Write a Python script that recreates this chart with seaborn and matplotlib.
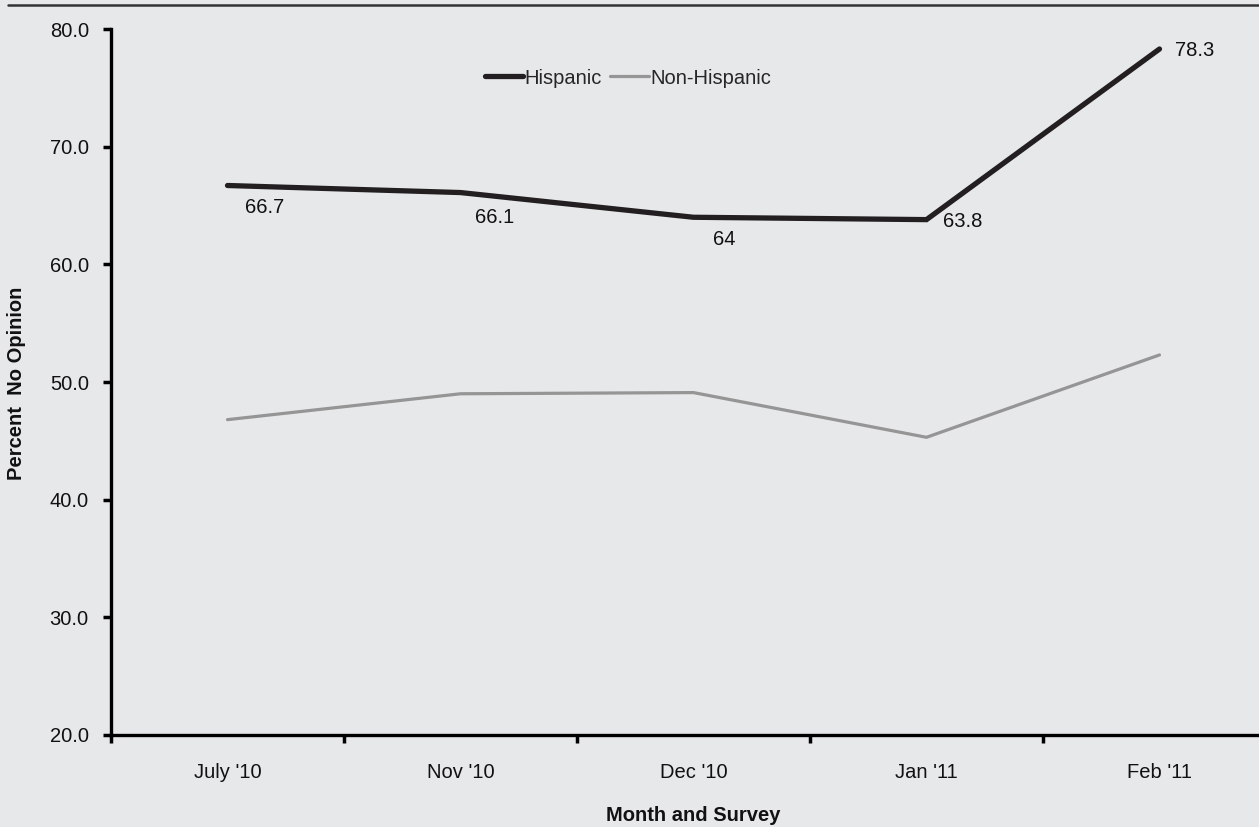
import matplotlib
matplotlib.use("Agg")
import matplotlib.pyplot as plt
import seaborn as sns
import pandas as pd
from matplotlib.lines import Line2D

# ---- data ----
months = ["July '10", "Nov '10", "Dec '10", "Jan '11", "Feb '11"]
hispanic = [66.7, 66.1, 64.0, 63.8, 78.3]
non_hispanic = [46.8, 49.0, 49.1, 45.3, 52.3]
hispanic_labels = ["66.7", "66.1", "64", "63.8", "78.3"]
series_names = ["Hispanic", "Non-Hispanic"]
y_ticks = [20, 30, 40, 50, 60, 70, 80]

# ---- style ----
bg = "#e7e8ea"
colors = {"Hispanic": "#231f20", "Non-Hispanic": "#959595"}
widths = {"Hispanic": 3.8, "Non-Hispanic": 2.3}
label_offsets_px = [(17, -22), (15, -25), (19, -22), (16, -2), (16, -1)]

sns.set_theme(style="white")
plt.rcParams["font.family"] = ["Liberation Sans", "DejaVu Sans"]

df = pd.DataFrame({
    "Month": months * 2,
    "x": list(range(len(months))) * 2,
    "Value": hispanic + non_hispanic,
    "Series": [series_names[0]] * len(months) + [series_names[1]] * len(months),
})

W, H = 1259, 827
fig = plt.figure(figsize=(W / 100, H / 100), dpi=100, facecolor=bg)
ax = fig.add_axes([111 / W, 92 / H, (1276 - 111) / W, 706 / H])
ax.set_facecolor(bg)

for name in series_names:
    sub = df[df["Series"] == name]
    sns.lineplot(data=sub, x="x", y="Value", ax=ax, color=colors[name],
                 linewidth=widths[name], legend=False, sort=False,
                 solid_capstyle="round", solid_joinstyle="miter")

ax.set_xlim(-0.5, len(months) - 0.5)
ax.set_ylim(20, 80)
ax.set_yticks(y_ticks)
ax.set_yticklabels([f"{v:.1f}" for v in y_ticks], fontsize=14.5, color="#111111")
ax.set_xticks(range(len(months)))
ax.set_xticklabels(months, fontsize=14.5, color="#111111")
ax.set_xticks([i + 0.5 for i in range(-1, len(months))], minor=True)
ax.tick_params(axis="x", which="major", bottom=True, length=0, pad=20)
ax.tick_params(axis="x", which="minor", bottom=True, length=6, width=2.5,
               color="black", direction="out")
ax.tick_params(axis="y", which="major", left=True, length=6, width=2.5,
               color="black", direction="out", pad=10)

for s in ["top", "right"]:
    ax.spines[s].set_visible(False)
for s in ["left", "bottom"]:
    ax.spines[s].set_color("black")
    ax.spines[s].set_linewidth(2.4)

ax.set_xlabel("Month and Survey", fontsize=14.5, fontweight="bold", color="#111111")
ax.xaxis.set_label_coords((693 - 111) / 1165, -(806 - 735) / 706)
ax.set_ylabel("Percent  No Opinion", fontsize=14.5, fontweight="bold", color="#111111")
ax.yaxis.set_label_coords((26 - 111) / 1165, (735 - 383) / 706)

# data labels for Hispanic
for i, (v, t) in enumerate(zip(hispanic, hispanic_labels)):
    dx, dy = label_offsets_px[i]
    ax.annotate(t, xy=(i, v), xytext=(dx * 0.72, dy * 0.72), textcoords="offset points",
                ha="left", va="center", fontsize=14.5, color="#111111")

# legend
handles = [Line2D([0], [0], color=colors[n], linewidth=widths[n], solid_capstyle="round")
           for n in series_names]
fig.legend(handles, series_names, loc="center", bbox_to_anchor=(628 / W, 1 - 78 / H),
           ncol=2, frameon=False, fontsize=14.5, handlelength=1.9, handletextpad=0.1,
           columnspacing=0.4)

# top rule
fig.add_artist(Line2D([8 / W, 1.0], [1 - 5 / H, 1 - 5 / H], color="#333333",
                      linewidth=1.8, transform=fig.transFigure))

fig.savefig("out.png", dpi=100, facecolor=bg)
